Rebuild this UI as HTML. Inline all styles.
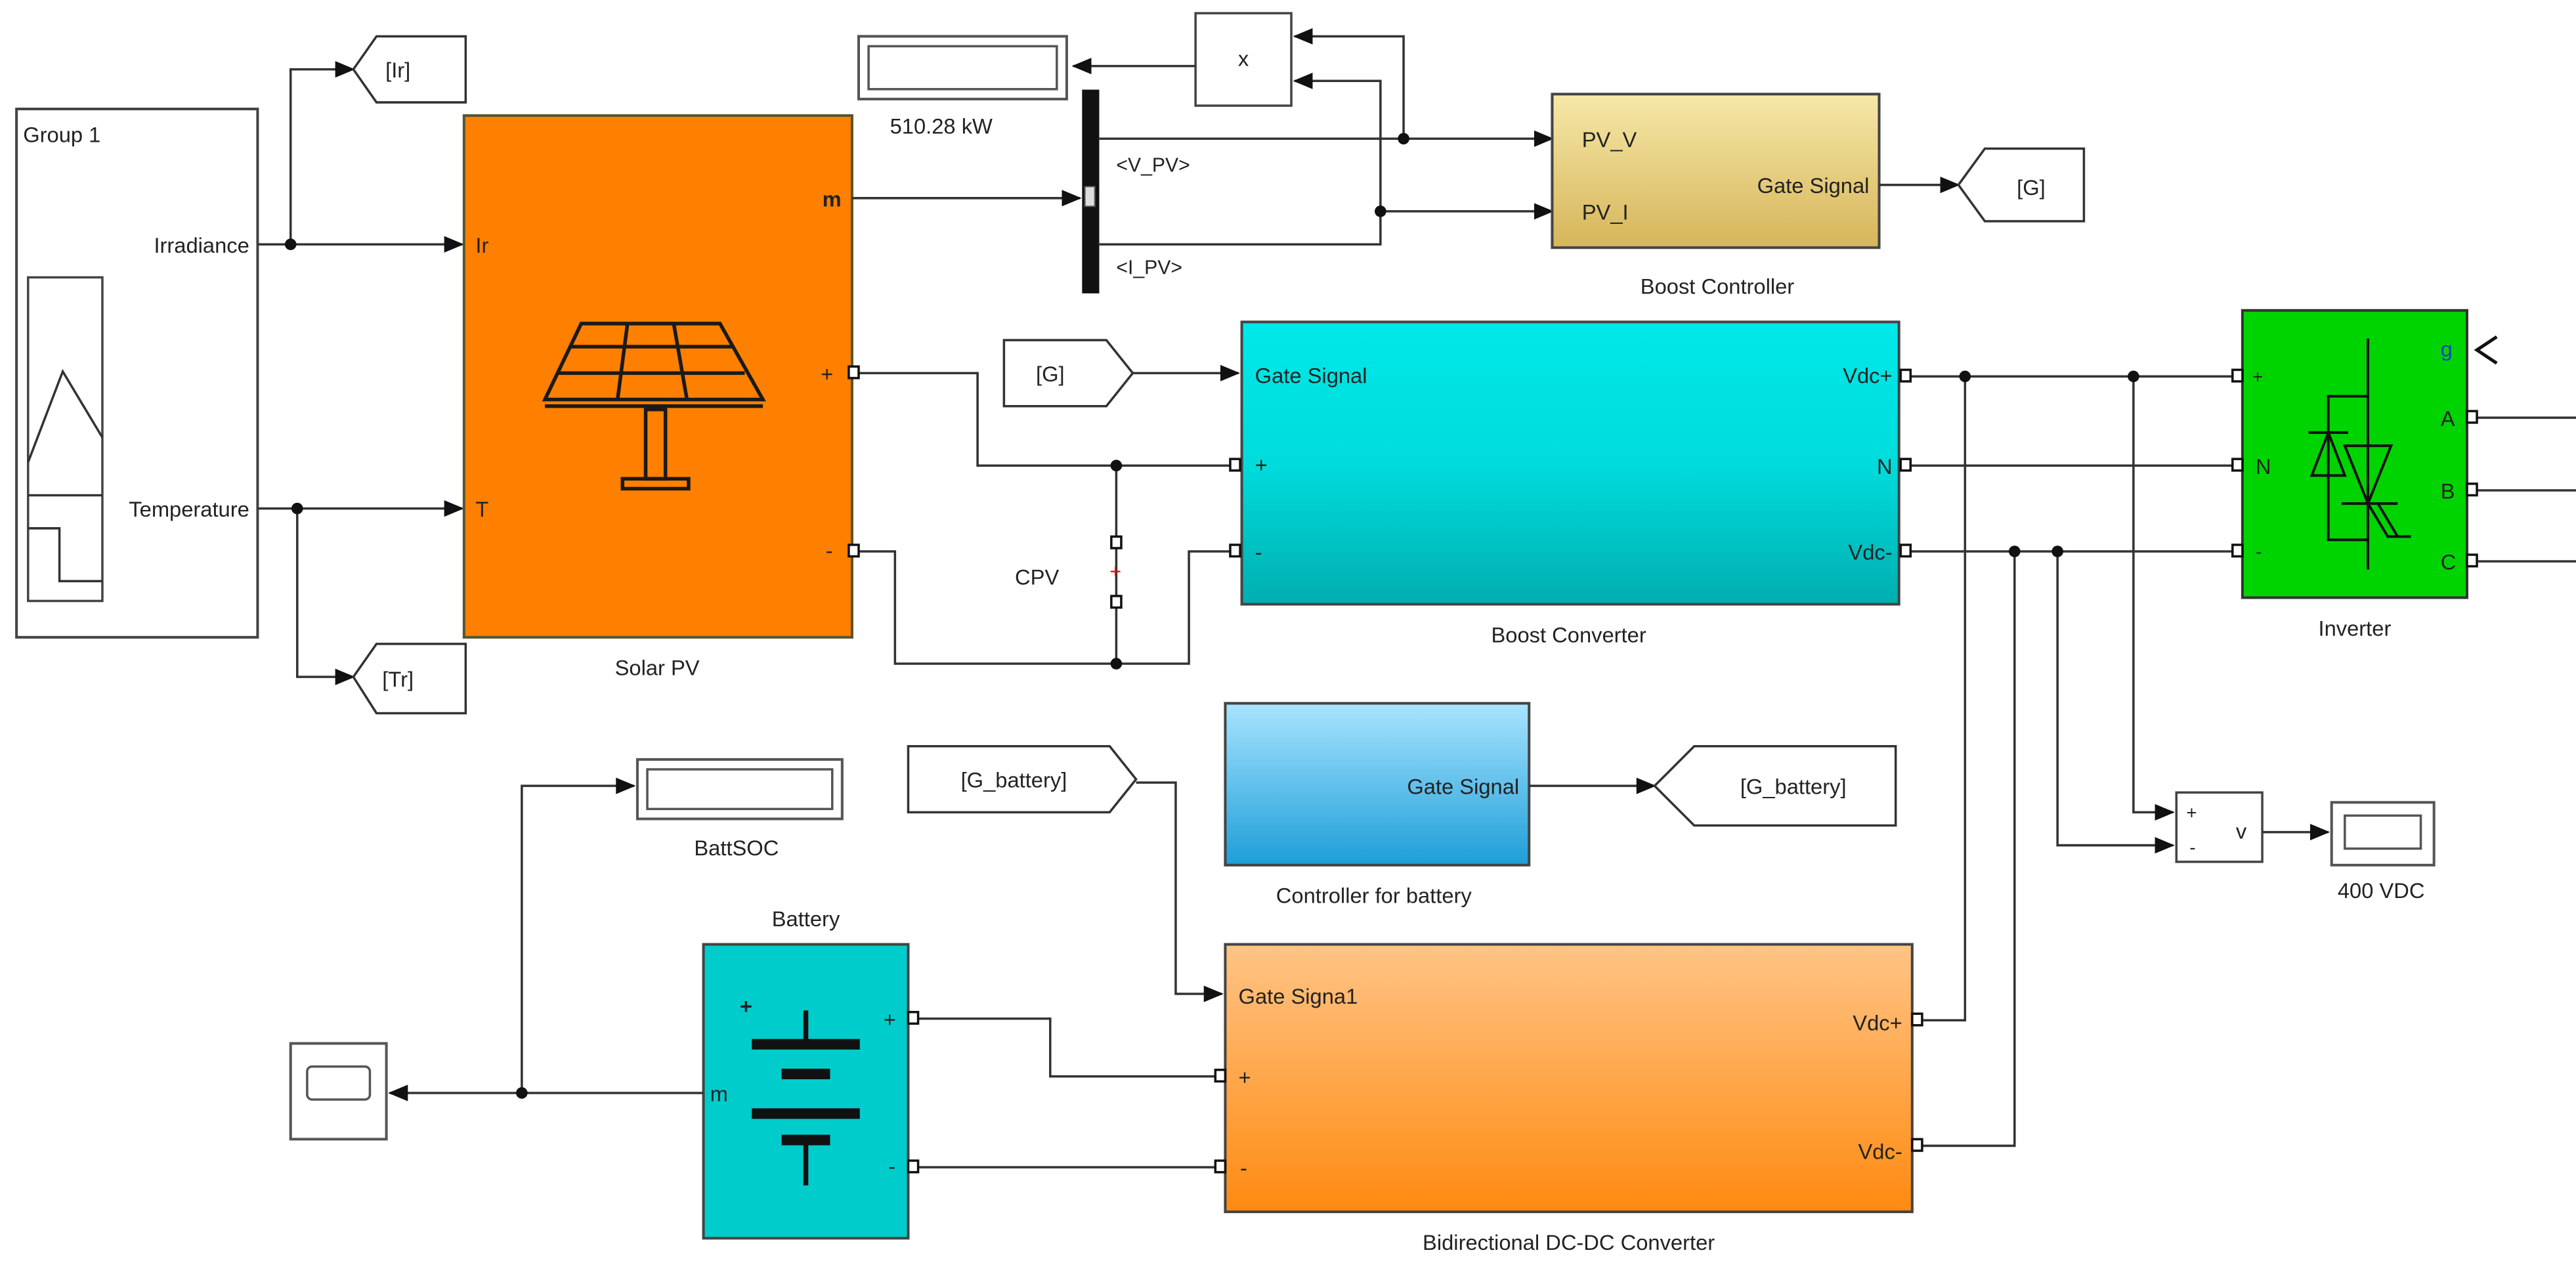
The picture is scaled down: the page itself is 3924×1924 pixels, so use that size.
<!DOCTYPE html>
<html><head><meta charset="utf-8"><style>
html,body{margin:0;padding:0;background:#fff;width:3924px;height:1924px;overflow:hidden}
svg{display:block}
text{font-family:"Liberation Sans",sans-serif;fill:#222}
</style></head><body>
<svg width="3924" height="1924" viewBox="0 0 1560 765" preserveAspectRatio="none" xmlns="http://www.w3.org/2000/svg">
<defs>
<marker id="a" markerWidth="12" markerHeight="10" refX="11" refY="5" orient="auto" markerUnits="userSpaceOnUse"><path d="M0,0 L12,5 L0,10 Z" fill="#111"/></marker>
<linearGradient id="gold" x1="0" y1="0" x2="0" y2="1"><stop offset="0" stop-color="#F6E8A8"/><stop offset="1" stop-color="#D6B55A"/></linearGradient>
<linearGradient id="cyan" x1="0" y1="0" x2="0" y2="1"><stop offset="0" stop-color="#00E8E8"/><stop offset="0.5" stop-color="#00DCDC"/><stop offset="1" stop-color="#00AEB0"/></linearGradient>
<linearGradient id="blue" x1="0" y1="0" x2="0" y2="1"><stop offset="0" stop-color="#A8E4FF"/><stop offset="1" stop-color="#1E9ED8"/></linearGradient>
<linearGradient id="org" x1="0" y1="0" x2="0" y2="1"><stop offset="0" stop-color="#FFC486"/><stop offset="1" stop-color="#FF8A10"/></linearGradient>
</defs>
<g stroke="#333" stroke-width="1.4" fill="none">
<!-- Group 1 -->
<rect x="10" y="66" width="146" height="320" fill="#fff" stroke="#444" stroke-width="1.6"/>
<rect x="17" y="168" width="45" height="196" fill="#fff" stroke="#444"/>
<line x1="17" y1="300" x2="62" y2="300"/>
<polyline points="17,280 38,225 62,265"/>
<polyline points="17,320 36,320 36,352 62,352"/>
<!-- Irradiance -->
<line x1="156" y1="148" x2="280" y2="148" marker-end="url(#a)"/>
<polyline points="176,148 176,42 214,42" marker-end="url(#a)"/>
<path d="M214,42 L228,22 L282,22 L282,62 L228,62 Z" fill="#fff"/>
<line x1="156" y1="308" x2="280" y2="308" marker-end="url(#a)"/>
<polyline points="180,308 180,410 214,410" marker-end="url(#a)"/>
<path d="M214,410 L228,390 L282,390 L282,432 L228,432 Z" fill="#fff"/>
<!-- Solar PV -->
<rect x="281" y="70" width="235" height="316" fill="#FF8000" stroke="#553" stroke-width="1.6"/>
<g stroke="#1a1a1a" stroke-width="2.2">
<path d="M352,196 L436,196 L462,242 L330,242 Z"/>
<line x1="345" y1="210" x2="443" y2="210"/><line x1="338" y1="226" x2="451" y2="226"/>
<line x1="380" y1="196" x2="374" y2="242"/><line x1="408" y1="196" x2="416" y2="242"/>
<line x1="330" y1="246" x2="462" y2="246"/>
<rect x="391" y="248" width="12" height="42"/>
<rect x="377" y="290" width="40" height="6"/>
</g>
<!-- m to bus -->
<line x1="516" y1="120" x2="654" y2="120" marker-end="url(#a)"/>
<rect x="656" y="55" width="9" height="122" fill="#111" stroke="#111"/>
<rect x="657" y="113" width="6" height="12" fill="#ddd" stroke="#555" stroke-width="0.8"/>
<polyline points="665,84 940,84" marker-end="url(#a)"/>
<polyline points="665,148 836,148 836,128 940,128" marker-end="url(#a)"/>
<polyline points="850,84 850,22 784,22" marker-end="url(#a)"/>
<polyline points="836,128 836,49 784,49" marker-end="url(#a)"/>
<rect x="724" y="8" width="58" height="56" fill="#fff" stroke="#444"/>
<line x1="724" y1="40" x2="650" y2="40" marker-end="url(#a)"/>
<rect x="520" y="22" width="126" height="38" fill="#fff" stroke="#555" stroke-width="1.6"/>
<rect x="526" y="28" width="114" height="26" fill="#fff" stroke="#555"/>
<!-- Boost controller -->
<rect x="940" y="57" width="198" height="93" fill="url(#gold)" stroke="#444" stroke-width="1.6"/>
<line x1="1138" y1="112" x2="1186" y2="112" marker-end="url(#a)"/>
<path d="M1186,112 L1202,90 L1262,90 L1262,134 L1202,134 Z" fill="#fff"/>
<!-- PV +/- and CPV -->
<polyline points="520,226 592,226 592,282 748,282"/>
<polyline points="520,334 542,334 542,402 720,402 720,334 748,334"/>
<line x1="676" y1="282" x2="676" y2="402"/>
<path d="M608,206 L670,206 L686,226 L670,246 L608,246 Z" fill="#fff"/>
<line x1="686" y1="226" x2="750" y2="226" marker-end="url(#a)"/>
<!-- Boost converter -->
<rect x="752" y="195" width="398" height="171" fill="url(#cyan)" stroke="#444" stroke-width="1.6"/>
<!-- DC bus -->
<line x1="1156" y1="228" x2="1352" y2="228"/>
<line x1="1156" y1="282" x2="1352" y2="282"/>
<line x1="1156" y1="334" x2="1352" y2="334"/>
<polyline points="1190,228 1190,618 1162,618"/>
<polyline points="1292,228 1292,492 1316,492" marker-end="url(#a)"/>
<polyline points="1220,334 1220,694 1162,694"/>
<polyline points="1246,334 1246,512 1316,512" marker-end="url(#a)"/>
<rect x="1318" y="480" width="52" height="42" fill="#fff" stroke="#444"/>
<line x1="1370" y1="504" x2="1410" y2="504" marker-end="url(#a)"/>
<rect x="1412" y="486" width="62" height="38" fill="#fff" stroke="#555" stroke-width="1.6"/>
<rect x="1420" y="494" width="46" height="20" fill="#fff" stroke="#555"/>
<!-- Inverter -->
<rect x="1358" y="188" width="136" height="174" fill="#00D400" stroke="#333" stroke-width="1.6"/>
<g stroke="#111" stroke-width="1.6">
<line x1="1434" y1="205" x2="1434" y2="345"/>
<polyline points="1434,240 1410,240 1410,327 1434,327"/>
<path d="M1400,288 L1420,288 M1410,262 L1400,288 L1420,288 Z M1398,262 L1422,262"/>
<path d="M1420,270 L1448,270 L1434,305 Z"/>
<line x1="1418" y1="305" x2="1452" y2="305"/>
<polyline points="1434,305 1446,325 1460,325"/><line x1="1440" y1="305" x2="1452" y2="325"/>
</g>
<polyline points="1512,204 1500,212 1512,220" stroke="#111" stroke-width="2"/>
<line x1="1500" y1="253" x2="1560" y2="253"/>
<line x1="1500" y1="297" x2="1560" y2="297"/>
<line x1="1500" y1="340" x2="1560" y2="340"/>
<!-- Controller for battery -->
<rect x="742" y="426" width="184" height="98" fill="url(#blue)" stroke="#444" stroke-width="1.6"/>
<line x1="926" y1="476" x2="1002" y2="476" marker-end="url(#a)"/>
<path d="M1002,476 L1026,452 L1148,452 L1148,500 L1026,500 Z" fill="#fff"/>
<path d="M550,452 L672,452 L688,472 L672,492 L550,492 Z" fill="#fff"/>
<polyline points="688,474 712,474 712,602 740,602" marker-end="url(#a)"/>
<!-- Bidirectional -->
<rect x="742" y="572" width="416" height="162" fill="url(#org)" stroke="#444" stroke-width="1.6"/>
<!-- Battery -->
<rect x="426" y="572" width="124" height="178" fill="#00CCCC" stroke="#444" stroke-width="1.6"/>
<g stroke="#111">
<line x1="488" y1="612" x2="488" y2="632" stroke-width="3"/>
<rect x="456" y="630" width="64" height="5" fill="#111"/>
<rect x="474" y="648" width="28" height="5" fill="#111"/>
<rect x="456" y="672" width="64" height="5" fill="#111"/>
<rect x="474" y="688" width="28" height="5" fill="#111"/>
<line x1="488" y1="693" x2="488" y2="718" stroke-width="3"/>
</g>
<polyline points="556,617 636,617 636,652 738,652"/>
<line x1="556" y1="707" x2="738" y2="707"/>
<line x1="426" y1="662" x2="236" y2="662" marker-end="url(#a)"/>
<polyline points="316,662 316,476 384,476" marker-end="url(#a)"/>
<rect x="386" y="460" width="124" height="36" fill="#fff" stroke="#555" stroke-width="1.6"/>
<rect x="392" y="466" width="112" height="24" fill="#fff" stroke="#555"/>
<rect x="176" y="632" width="58" height="58" fill="#fff" stroke="#555" stroke-width="1.6"/>
<rect x="186" y="646" width="38" height="20" rx="3" fill="#fff" stroke="#555"/>
</g>
<!-- ports -->
<g fill="#fff" stroke="#111" stroke-width="1.4">
<rect x="514" y="222" width="6" height="7"/><rect x="514" y="330" width="6" height="7"/>
<rect x="745" y="278" width="6" height="7"/><rect x="745" y="330" width="6" height="7"/>
<rect x="1151" y="224" width="6" height="7"/><rect x="1151" y="278" width="6" height="7"/><rect x="1151" y="330" width="6" height="7"/>
<rect x="1352" y="224" width="6" height="7"/><rect x="1352" y="278" width="6" height="7"/><rect x="1352" y="330" width="6" height="7"/>
<rect x="1494" y="249" width="6" height="7"/><rect x="1494" y="293" width="6" height="7"/><rect x="1494" y="336" width="6" height="7"/>
<rect x="673" y="325" width="6" height="7"/><rect x="673" y="361" width="6" height="7"/>
<rect x="550" y="613" width="6" height="7"/><rect x="550" y="703" width="6" height="7"/>
<rect x="736" y="648" width="6" height="7"/><rect x="736" y="703" width="6" height="7"/>
<rect x="1158" y="614" width="6" height="7"/><rect x="1158" y="690" width="6" height="7"/>
</g>
<text x="672" y="350" font-size="12" fill="#e00" style="fill:#e00">+</text>
<!-- dots -->
<g fill="#111">
<circle cx="176" cy="148" r="3.5"/><circle cx="180" cy="308" r="3.5"/>
<circle cx="850" cy="84" r="3.5"/><circle cx="836" cy="128" r="3.5"/>
<circle cx="676" cy="282" r="3.5"/><circle cx="676" cy="402" r="3.5"/>
<circle cx="1190" cy="228" r="3.5"/><circle cx="1292" cy="228" r="3.5"/>
<circle cx="1220" cy="334" r="3.5"/><circle cx="1246" cy="334" r="3.5"/>
<circle cx="316" cy="662" r="3.5"/>
</g>
<!-- text -->
<g font-size="13">
<text x="14" y="86">Group 1</text>
<text x="151" y="153" text-anchor="end">Irradiance</text>
<text x="151" y="313" text-anchor="end">Temperature</text>
<text x="241" y="47" text-anchor="middle">[Ir]</text>
<text x="241" y="416" text-anchor="middle">[Tr]</text>
<text x="288" y="153">Ir</text><text x="288" y="313">T</text>
<text x="498" y="125" font-weight="bold">m</text>
<text x="497" y="231">+</text><text x="500" y="338">-</text>
<text x="398" y="409" text-anchor="middle">Solar PV</text>
<text x="753" y="40" text-anchor="middle">x</text>
<text x="570" y="81" text-anchor="middle">510.28 kW</text>
<text x="676" y="104" font-size="12">&lt;V_PV&gt;</text>
<text x="676" y="166" font-size="12">&lt;I_PV&gt;</text>
<text x="958" y="89">PV_V</text><text x="958" y="133">PV_I</text>
<text x="1132" y="117" text-anchor="end">Gate Signal</text>
<text x="1040" y="178" text-anchor="middle">Boost Controller</text>
<text x="1230" y="118" text-anchor="middle">[G]</text>
<text x="636" y="231" text-anchor="middle">[G]</text>
<text x="760" y="232">Gate Signal</text>
<text x="760" y="286">+</text><text x="760" y="339">-</text>
<text x="1146" y="232" text-anchor="end">Vdc+</text>
<text x="1146" y="287" text-anchor="end">N</text>
<text x="1146" y="339" text-anchor="end">Vdc-</text>
<text x="950" y="389" text-anchor="middle">Boost Converter</text>
<text x="628" y="354" text-anchor="middle">CPV</text>
<text x="1364" y="232" font-size="11">+</text>
<text x="1366" y="287">N</text>
<text x="1366" y="338" font-size="11">-</text>
<text x="1478" y="216" style="fill:#1040c0">g</text>
<text x="1478" y="258">A</text><text x="1478" y="302">B</text><text x="1478" y="345">C</text>
<text x="1426" y="385" text-anchor="middle">Inverter</text>
<text x="1324" y="496" font-size="11">+</text><text x="1326" y="517" font-size="11">-</text>
<text x="1354" y="508">v</text>
<text x="1442" y="544" text-anchor="middle">400 VDC</text>
<text x="920" y="481" text-anchor="end">Gate Signal</text>
<text x="832" y="547" text-anchor="middle">Controller for battery</text>
<text x="1086" y="481" text-anchor="middle">[G_battery]</text>
<text x="614" y="477" text-anchor="middle">[G_battery]</text>
<text x="750" y="608">Gate Signa1</text>
<text x="750" y="657">+</text><text x="751" y="712">-</text>
<text x="1152" y="624" text-anchor="end">Vdc+</text>
<text x="1152" y="702" text-anchor="end">Vdc-</text>
<text x="950" y="757" text-anchor="middle">Bidirectional DC-DC Converter</text>
<text x="488" y="561" text-anchor="middle">Battery</text>
<text x="448" y="614" font-weight="bold">+</text>
<text x="535" y="622">+</text><text x="538" y="711">-</text>
<text x="430" y="667">m</text>
<text x="446" y="518" text-anchor="middle">BattSOC</text>
</g>
</svg>
</body></html>
